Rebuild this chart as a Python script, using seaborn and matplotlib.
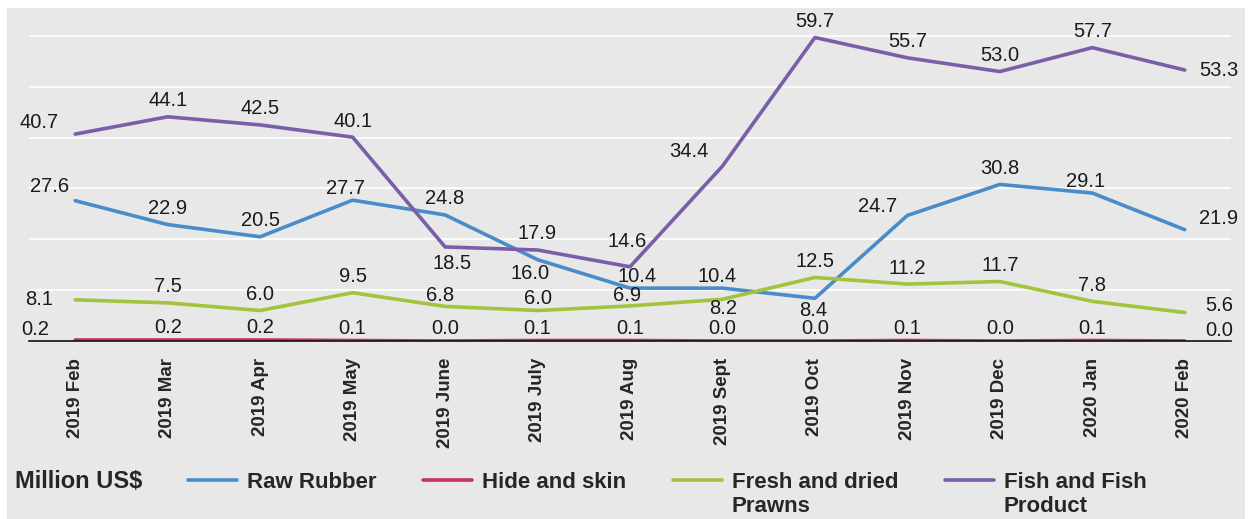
import numpy as np
import matplotlib.pyplot as plt
import matplotlib.patches as mpatches
import seaborn as sns
import pandas as pd

months = ['2019 Feb', '2019 Mar', '2019 Apr', '2019 May', '2019 June', '2019 July',
          '2019 Aug', '2019 Sept', '2019 Oct', '2019 Nov', '2019 Dec', '2020 Jan', '2020 Feb']
raw_rubber = [27.6, 22.9, 20.5, 27.7, 24.8, 16.0, 10.4, 10.4, 8.4, 24.7, 30.8, 29.1, 21.9]
hide_skin = [0.2, 0.2, 0.2, 0.1, 0.0, 0.1, 0.1, 0.0, 0.0, 0.1, 0.0, 0.1, 0.0]
prawns = [8.1, 7.5, 6.0, 9.5, 6.8, 6.0, 6.9, 8.2, 12.5, 11.2, 11.7, 7.8, 5.6]
fish = [40.7, 44.1, 42.5, 40.1, 18.5, 17.9, 14.6, 34.4, 59.7, 55.7, 53.0, 57.7, 53.3]

series_names = ['Raw Rubber', 'Hide and skin', 'Fresh and dried\nPrawns', 'Fish and Fish\nProduct']
series_vals = [raw_rubber, hide_skin, prawns, fish]
colors = ['#4a8cc9', '#c8325a', '#a2c43c', '#7a5ea8']

df = pd.concat([pd.DataFrame({'month': months, 'value': v, 'series': n})
                for n, v in zip(series_names, series_vals)], ignore_index=True)

sns.set_style('white')
plt.rcParams['font.family'] = ['Liberation Sans', 'DejaVu Sans']

bg = '#e8e8e8'
fig = plt.figure(figsize=(12.59, 5.19), dpi=100, facecolor='white')
fig.patches.append(mpatches.Rectangle((7 / 1259, 0), 1238 / 1259, 511 / 519,
                                      transform=fig.transFigure, facecolor=bg,
                                      edgecolor='none', zorder=-10))
ax = fig.add_axes([29 / 1259, (519 - 341) / 519, 1202 / 1259, 333 / 519])
ax.set_facecolor(bg)

sns.lineplot(data=df, x='month', y='value', hue='series', palette=colors,
             sort=False, linewidth=2.6, ax=ax, legend=False)

ax.set_xlim(-0.5, 12.5)
ax.set_ylim(0, 65.5)
ax.set_yticks(np.arange(10, 61, 10))
ax.yaxis.grid(True, color='white', linewidth=1.2)
ax.set_yticklabels([])
ax.tick_params(axis='y', length=0)
for s in ['top', 'right', 'left']:
    ax.spines[s].set_visible(False)
ax.spines['bottom'].set_color('#111111')
ax.spines['bottom'].set_linewidth(1.2)
ax.set_xlabel('')
ax.set_ylabel('')

ax.set_xticks(range(len(months)))
ax.set_xticklabels(months, rotation=90, fontsize=13.5, fontweight='bold')
ax.tick_params(axis='x', which='major', length=0, pad=12)
ax.set_xticks(np.arange(-0.5, 13, 1), minor=True)
ax.tick_params(axis='x', which='minor', length=5, width=1.2, color='#111111', direction='out')

# label offsets in pixels (default above the point)
offsets = {
    (3, 0): (-36, 12), (3, 4): (7, -17), (3, 6): (-3, 25), (3, 7): (-34, 15), (3, 12): (34, 0),
    (0, 0): (-26, 14), (0, 3): (-7, 12), (0, 5): (-7, -14), (0, 6): (7, 12), (0, 7): (-5, 12),
    (0, 8): (-2, -12), (0, 9): (-30, 9), (0, 11): (-7, 12), (0, 12): (34, 11),
    (2, 0): (-36, 0), (2, 4): (-5, 11), (2, 5): (0, 12), (2, 6): (-3, 10), (2, 7): (1, -9),
    (2, 12): (34, 7),
}
red_offsets = {0: (-40, 10), 12: (34, 10)}
for si, vals in enumerate(series_vals):
    for i, v in enumerate(vals):
        if si == 1:
            dx, dy = red_offsets.get(i, (0, 12))
        else:
            dx, dy = offsets.get((si, i), (0, 16))
        ax.annotate(f'{v:.1f}', (i, v), xytext=(dx, dy), textcoords='offset pixels',
                    ha='center', va='center', fontsize=14.5, color='#1a1a1a')

fig.text(15 / 1259, 1 - 482 / 519, 'Million US$', fontsize=17, fontweight='bold',
         ha='left', va='center')
handles = [plt.Line2D([], [], color=c, linewidth=2.6) for c in colors]
leg = fig.legend(handles, series_names, ncol=4, loc='upper left',
                 bbox_to_anchor=(188 / 1259, 1 - 472 / 519), frameon=False,
                 prop={'size': 16, 'weight': 'bold'}, handlelength=2.2,
                 columnspacing=2.1, handletextpad=0.45, borderaxespad=0, borderpad=0,
                 labelspacing=0.2)
# keep handles level with the first line of two-line labels
leg._legend_handle_box.align = 'top'
for col in leg._legend_handle_box.get_children():
    for item in col.get_children():
        item.align = 'top'

fig.savefig('out.png', dpi=100, facecolor='white')
